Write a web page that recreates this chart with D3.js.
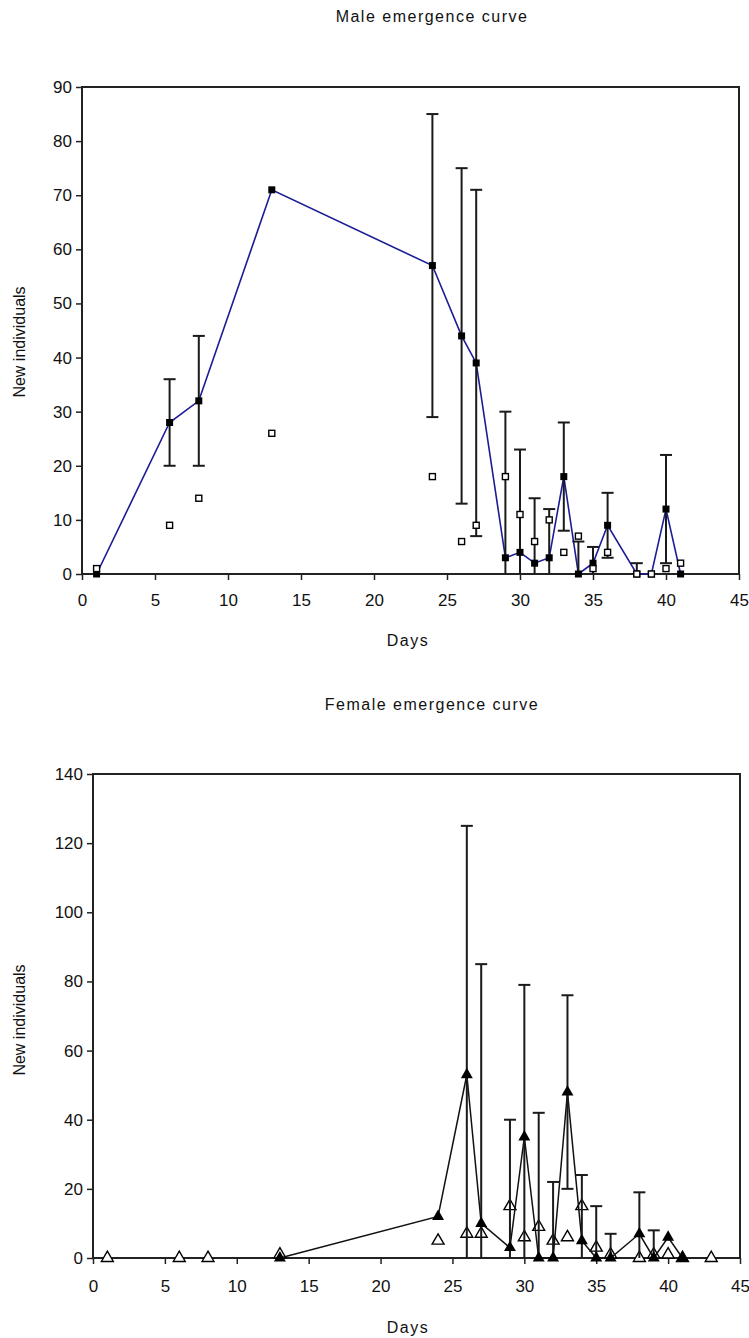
<!DOCTYPE html>
<html>
<head>
<meta charset="utf-8">
<script src="https://cdn.jsdelivr.net/npm/d3@7"></script>
<style>
  body { margin: 0; background: #fff; }
  text { font-family: "Liberation Sans", Arial, sans-serif; fill: #111; }
</style>
</head>
<body>
<div id="chart"></div>
<script>
// ---- male panel data ----
var maleDays = [1, 6, 8, 13, 24, 26, 27, 29, 30, 31, 32, 33, 34, 35, 36, 38, 39, 40, 41];
var maleMean = [0, 28, 32, 71, 57, 44, 39, 3, 4, 2, 3, 18, 0, 2, 9, 0, 0, 12, 0];
var maleErr  = [0, 8, 12, 0, 28, 31, 32, 27, 19, 12, 9, 10, 6, 3, 6, 2, 0, 10, 0];
var maleOpen = [1, 9, 14, 26, 18, 6, 9, 18, 11, 6, 10, 4, 7, 1, 4, 0, 0, 1, 2];

// ---- female panel data ----
var femDays = [13, 24, 26, 27, 29, 30, 31, 32, 33, 34, 35, 36, 38, 39, 40, 41];
var femMean = [0, 12, 53, 10, 3, 35, 0, 0, 48, 5, 0, 0, 7, 0, 6, 0];
var femErr  = [0, 0, 72, 75, 37, 44, 42, 22, 28, 19, 15, 7, 12, 8, 0, 0];
var femOpenDays = [1, 6, 8, 13, 24, 26, 27, 29, 30, 31, 32, 33, 34, 35, 36, 38, 39, 40, 41, 43];
var femOpen     = [0, 0, 0, 1, 5, 7, 7, 15, 6, 9, 5, 6, 15, 3, 1, 0, 1, 1, 0, 0];

var xTicks = [0, 5, 10, 15, 20, 25, 30, 35, 40, 45];
var maleYTicks = [0, 10, 20, 30, 40, 50, 60, 70, 80, 90];
var femYTicks = [0, 20, 40, 60, 80, 100, 120, 140];

var svg = d3.select("#chart").append("svg")
  .attr("width", 749)
  .attr("height", 1338);

function drawPanel(p) {
  var x = d3.scaleLinear().domain([0, 45]).range([p.left, p.right]);
  var y = d3.scaleLinear().domain([0, p.yTicks[p.yTicks.length - 1]]).range([p.bottom, p.top]);
  var g = svg.append("g");

  // clip for error bars
  var clipId = "clip" + p.id;
  svg.append("clipPath").attr("id", clipId)
    .append("rect")
    .attr("x", p.left).attr("y", p.top)
    .attr("width", p.right - p.left).attr("height", p.bottom - p.top);

  // title
  g.append("text")
    .attr("x", 432).attr("y", p.titleY)
    .attr("text-anchor", "middle")
    .attr("font-size", "16px")
    .attr("letter-spacing", "1.5px")
    .text(p.title);

  // axes
  var yAxis = d3.axisLeft(y).tickValues(p.yTicks).tickSize(6).tickSizeOuter(0).tickPadding(4);
  var xAxis = d3.axisBottom(x).tickValues(xTicks).tickSize(6).tickSizeOuter(0).tickPadding(p.xPad);
  var ya = g.append("g").attr("transform", "translate(" + p.left + ",0)").call(yAxis);
  var xa = g.append("g").attr("transform", "translate(0," + p.bottom + ")").call(xAxis);
  [ya, xa].forEach(function(a) {
    a.select(".domain").remove();
    a.selectAll(".tick line").attr("stroke", "#222").attr("stroke-width", 1.5);
    a.selectAll(".tick text").attr("font-size", "17px").attr("fill", "#111")
      .style("font-family", "'Liberation Sans', Arial, sans-serif");
  });

  // frame
  g.append("rect")
    .attr("x", p.left).attr("y", p.top)
    .attr("width", p.right - p.left).attr("height", p.bottom - p.top)
    .attr("fill", "none").attr("stroke", "#222").attr("stroke-width", 2);

  // axis titles
  g.append("text")
    .attr("x", 408).attr("y", p.xLabelY)
    .attr("text-anchor", "middle").attr("font-size", "16px")
    .attr("letter-spacing", "1.5px")
    .text("Days");
  g.append("text")
    .attr("transform", "translate(25," + p.yLabelY + ") rotate(-90)")
    .attr("text-anchor", "middle").attr("font-size", "16px")
    .text("New individuals");

  return { g: g, x: x, y: y, clip: "url(#" + clipId + ")" };
}

function errorBars(c, days, mean, err) {
  var eg = c.g.append("g").attr("clip-path", c.clip)
    .attr("stroke", "#1a1a1a").attr("stroke-width", 2);
  days.forEach(function(d, i) {
    if (!err[i]) return;
    var lo = mean[i] - err[i], hi = mean[i] + err[i];
    var px = c.x(d);
    eg.append("line").attr("x1", px).attr("x2", px).attr("y1", c.y(lo)).attr("y2", c.y(hi));
    [lo, hi].forEach(function(v) {
      eg.append("line").attr("x1", px - 6).attr("x2", px + 6).attr("y1", c.y(v)).attr("y2", c.y(v));
    });
  });
}

// ---- male ----
var m = drawPanel({ id: "m", left: 82, right: 739, top: 87, bottom: 574, yTicks: maleYTicks,
  title: "Male emergence curve", titleY: 22, xLabelY: 646, yLabelY: 342, xPad: 14 });

m.g.append("path")
  .datum(maleDays.map(function(d, i) { return [d, maleMean[i]]; }))
  .attr("fill", "none").attr("stroke", "#1c1c96").attr("stroke-width", 1.6)
  .attr("d", d3.line().x(function(d) { return m.x(d[0]); }).y(function(d) { return m.y(d[1]); }));

errorBars(m, maleDays, maleMean, maleErr);

m.g.selectAll(".fsq").data(maleDays).enter().append("rect")
  .attr("x", function(d) { return m.x(d) - 3.5; })
  .attr("y", function(d, i) { return m.y(maleMean[i]) - 3.5; })
  .attr("width", 7).attr("height", 7).attr("fill", "#000");

m.g.selectAll(".osq").data(maleDays).enter().append("rect")
  .attr("x", function(d) { return m.x(d) - 3; })
  .attr("y", function(d, i) { return m.y(maleOpen[i]) - 3; })
  .attr("width", 6).attr("height", 6)
  .attr("fill", "#fff").attr("stroke", "#000").attr("stroke-width", 1.4);

// ---- female ----
var f = drawPanel({ id: "f", left: 93, right: 740, top: 774, bottom: 1258, yTicks: femYTicks,
  title: "Female emergence curve", titleY: 710, xLabelY: 1333, yLabelY: 1020, xPad: 16 });

var tri = d3.symbol().type(d3.symbolTriangle).size(62);

f.g.selectAll(".otri").data(femOpenDays).enter().append("path")
  .attr("transform", function(d, i) { return "translate(" + f.x(d) + "," + f.y(femOpen[i]) + ")"; })
  .attr("d", tri)
  .attr("fill", "#fff").attr("stroke", "#000").attr("stroke-width", 1.4);

f.g.append("path")
  .datum(femDays.map(function(d, i) { return [d, femMean[i]]; }))
  .attr("fill", "none").attr("stroke", "#111").attr("stroke-width", 1.5)
  .attr("d", d3.line().x(function(d) { return f.x(d[0]); }).y(function(d) { return f.y(d[1]); }));

errorBars(f, femDays, femMean, femErr);

f.g.selectAll(".ftri").data(femDays).enter().append("path")
  .attr("transform", function(d, i) { return "translate(" + f.x(d) + "," + f.y(femMean[i]) + ")"; })
  .attr("d", tri)
  .attr("fill", "#000");
</script>
</body>
</html>
